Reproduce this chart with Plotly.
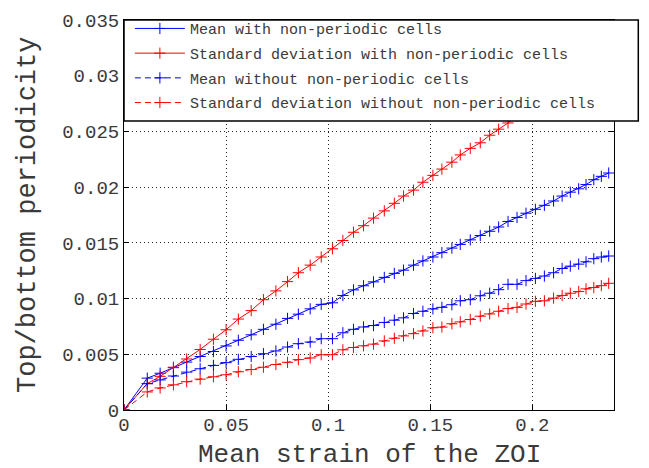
import plotly.graph_objects as go

# Mean strain of the ZOI (shared x values)
strain = [0, 0.0114, 0.0177, 0.0242, 0.0307, 0.0373, 0.0438, 0.0500, 0.0560, 0.0623,
          0.0683, 0.0744, 0.0801, 0.0854, 0.0912, 0.0966, 0.1021, 0.1072, 0.1124, 0.1173,
          0.1222, 0.1275, 0.1324, 0.1369, 0.1418, 0.1464, 0.1513, 0.1557, 0.1606, 0.1647,
          0.1696, 0.1745, 0.1791, 0.1835, 0.1881, 0.1925, 0.1969, 0.2015, 0.2059, 0.2104,
          0.2146, 0.2186, 0.2227, 0.2263, 0.2301, 0.2338, 0.2374]

mean_with = [0, 0.00286, 0.0033, 0.0038, 0.0043, 0.0048, 0.00525, 0.00575, 0.00626, 0.00675,
             0.00724, 0.0077, 0.00822, 0.0086, 0.00908, 0.00948, 0.00962, 0.01028, 0.01078, 0.01115,
             0.01150, 0.0119, 0.01226, 0.01255, 0.0130, 0.01338, 0.01373, 0.01412, 0.01453, 0.01486,
             0.01527, 0.01566, 0.01604, 0.01642, 0.01692, 0.01728, 0.01766, 0.01801, 0.01837, 0.01876,
             0.0192, 0.01955, 0.01985, 0.02023, 0.02067, 0.02097, 0.02127]

std_with = [0, 0.00237, 0.00302, 0.00384, 0.00458, 0.00543, 0.00635, 0.0072, 0.00816, 0.00892,
            0.0099, 0.01069, 0.01152, 0.01232, 0.0130, 0.01373, 0.01447, 0.01521, 0.01595, 0.01654,
            0.01722, 0.01787, 0.01855, 0.0192, 0.01973, 0.02044, 0.02106, 0.02162, 0.02224, 0.02289,
            0.02348, 0.02398, 0.02466, 0.0252, 0.02576, 0.0264, 0.0270, 0.0276, 0.0282, 0.0288,
            0.0293, 0.0298, 0.0304, 0.0309, 0.0314, 0.0319, 0.0324]

mean_without = [0, 0.00236, 0.0027, 0.00305, 0.0034, 0.0037, 0.0040, 0.00425, 0.00455, 0.0048,
                0.00505, 0.0053, 0.00565, 0.00595, 0.0061, 0.0064, 0.0064, 0.00693, 0.00724, 0.00745,
                0.00758, 0.00786, 0.00806, 0.00827, 0.00866, 0.00886, 0.00907, 0.00921, 0.00945, 0.0098,
                0.0099, 0.01025, 0.01048, 0.0108, 0.01128, 0.01128, 0.01161, 0.01181, 0.01202, 0.01232,
                0.0127, 0.01291, 0.01309, 0.0133, 0.01358, 0.01373, 0.01382]

std_without = [0, 0.00162, 0.00198, 0.00226, 0.00254, 0.00277, 0.00298, 0.00316, 0.00343, 0.00363,
               0.00384, 0.00408, 0.00428, 0.00452, 0.00467, 0.00496, 0.00496, 0.0054, 0.00561, 0.00576,
               0.00591, 0.0062, 0.00644, 0.00665, 0.00685, 0.00709, 0.00738, 0.00744, 0.00774, 0.00791,
               0.00812, 0.00842, 0.00862, 0.00886, 0.0091, 0.00921, 0.00951, 0.00975, 0.0098, 0.01004,
               0.01028, 0.01048, 0.01063, 0.01087, 0.01099, 0.01116, 0.01137]

names = ["Mean with non-periodic cells",
         "Standard deviation with non-periodic cells",
         "Mean without non-periodic cells",
         "Standard deviation without non-periodic cells"]

x_title = "Mean strain of the ZOI"
y_title = "Top/bottom periodicity"

x_ticks = [0, 0.05, 0.1, 0.15, 0.2]
x_ticklabels = ["0", "0.05", "0.1", "0.15", "0.2"]
y_ticks = [0, 0.005, 0.01, 0.015, 0.02, 0.025, 0.03, 0.035]
y_ticklabels = ["0", "0.005", "0.01", "0.015", "0.02", "0.025", "0.03", "0.035"]

FONT = "Courier New, Liberation Mono, monospace"
TEXT = "#3a3a3a"
BLUE = "#0000ff"
RED = "#ff0000"

series = [
    (mean_with, BLUE, "solid"),
    (std_with, RED, "solid"),
    (mean_without, BLUE, "6px,4px"),
    (std_without, RED, "6px,4px"),
]

fig = go.Figure()
for i, ((ys, color, dash), name) in enumerate(zip(series, names)):
    fig.add_trace(go.Scatter(
        x=strain, y=ys, name=name, mode="lines+markers",
        legendgroup=f"g{i}",
        line=dict(color=color, width=1, dash=dash),
        marker=dict(symbol="cross-thin-open", size=8, color=color,
                    line=dict(color=color, width=1)),
    ))

axis_common = dict(
    showline=True, linecolor="black", linewidth=1, mirror="ticks",
    ticks="inside", ticklen=5, tickcolor="black",
    showgrid=True, gridcolor="#222222", gridwidth=1, griddash="1px,3px",
    zeroline=False, automargin=False,
    tickfont=dict(family=FONT, size=19, color=TEXT),
)

fig.update_xaxes(range=[0, 0.24], tickvals=x_ticks, ticktext=x_ticklabels,
                 ticklabelstandoff=-3, **axis_common)
fig.update_yaxes(range=[0, 0.035], tickvals=y_ticks, ticktext=y_ticklabels,
                 **axis_common)

# axis titles
fig.add_annotation(text=x_title, xref="paper", yref="paper", x=0.5, y=-46 / 395,
                   xanchor="center", yanchor="middle", showarrow=False,
                   font=dict(family=FONT, size=26, color=TEXT))
fig.add_annotation(text=y_title, xref="paper", yref="paper", x=-96 / 490, y=0.5,
                   xanchor="center", yanchor="middle", showarrow=False, textangle=-90,
                   font=dict(family=FONT, size=27, color=TEXT))

# legend frame (white box with black border) drawn over the plot area
fig.add_shape(type="rect", xref="paper", yref="paper",
              x0=0, x1=(638.3 - 124) / 490, y0=(410 - 117.3) / 395, y1=1.0,
              fillcolor="white", line=dict(color="black", width=1.5), layer="above")

fig.update_layout(
    width=649, height=468,
    margin=dict(l=124, r=35, t=15, b=58),
    paper_bgcolor="white", plot_bgcolor="white",
    font=dict(family=FONT, color=TEXT),
    legend=dict(x=0.012, y=1.02, xanchor="left", yanchor="top",
                bgcolor="rgba(0,0,0,0)", borderwidth=0,
                font=dict(family=FONT, size=15, color=TEXT),
                itemwidth=50, tracegroupgap=2.2),
    showlegend=True,
)

fig.write_html("out.html")
